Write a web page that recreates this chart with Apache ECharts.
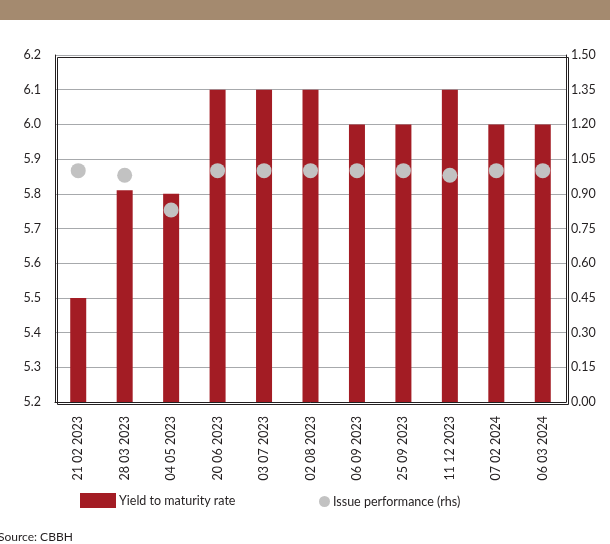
<!DOCTYPE html>
<html>
<head>
<meta charset="utf-8">
<script src="https://cdn.jsdelivr.net/npm/echarts@6/dist/echarts.min.js"></script>
<style>html,body{margin:0;padding:0;background:#fff;}#c{width:610px;height:544px;}</style>
</head>
<body>
<div id="c"></div>
<script>
var categories = ['21 02 2023','28 03 2023','04 05 2023','20 06 2023','03 07 2023','02 08 2023','06 09 2023','25 09 2023','11 12 2023','07 02 2024','06 03 2024'];
var yieldRate = [5.5, 5.81, 5.80, 6.1, 6.1, 6.1, 6.0, 6.0, 6.1, 6.0, 6.0];
var issuePerf = [1.0, 0.98, 0.83, 1.0, 1.0, 1.0, 1.0, 1.0, 0.98, 1.0, 1.0];
var leftTicks = {min: 5.2, max: 6.2, interval: 0.1};
var rightTicks = {min: 0, max: 1.5, interval: 0.15};

var FONT = 'Lato';
var chart = echarts.init(document.getElementById('c'), null, {renderer: 'canvas'});
chart.setOption({
  animation: false,
  textStyle: {fontFamily: FONT},
  graphic: [
    {type: 'rect', left: 0, top: 0, shape: {width: 610, height: 20}, style: {fill: '#a48a6f'}},
    {type: 'rect', left: 55, top: 55, shape: {width: 511, height: 347}, style: {fill: 'none', stroke: '#231f20', lineWidth: 1}, z: 10},
    {type: 'text', left: -2, top: 531, style: {text: 'Source: CBBH', fill: '#231f20', font: '12px ' + FONT}}
  ],
  grid: {left: 55, right: 44, top: 55, bottom: 142, containLabel: false},
  legend: [
    {data: ['Yield to maturity rate'], left: 75, top: 488, itemWidth: 36, itemHeight: 15, itemGap: 4,
     textStyle: {color: '#231f20', fontSize: 12.5, fontFamily: FONT, padding: [0,0,0,-2]}, icon: 'rect'},
    {data: ['Issue performance (rhs)'], left: 314, top: 490, itemWidth: 11, itemHeight: 11,
     textStyle: {color: '#231f20', fontSize: 12.5, fontFamily: FONT, padding: [0,0,0,-2]}, icon: 'circle'}
  ],
  xAxis: {
    type: 'category', data: categories,
    axisLine: {show: true, lineStyle: {color: '#231f20', width: 1}},
    axisTick: {show: false},
    axisLabel: {rotate: 90, color: '#231f20', fontSize: 12.5, fontFamily: FONT, margin: 14, interval: 0}
  },
  yAxis: [
    {type: 'value', min: leftTicks.min, max: leftTicks.max, interval: leftTicks.interval, position: 'left',
     axisLine: {show: true, lineStyle: {color: '#231f20'}}, axisTick: {show: false},
     axisLabel: {color: '#231f20', fontSize: 12.5, fontFamily: FONT, margin: 14, formatter: function(v){return v.toFixed(1);}},
     splitLine: {show: true, lineStyle: {color: '#a7a9ac', width: 1}}},
    {type: 'value', min: rightTicks.min, max: rightTicks.max, interval: rightTicks.interval, position: 'right',
     axisLine: {show: true, lineStyle: {color: '#231f20'}}, axisTick: {show: false},
     axisLabel: {color: '#231f20', fontSize: 12.5, fontFamily: FONT, margin: 5, formatter: function(v){return v.toFixed(2);}},
     splitLine: {show: false}}
  ],
  series: [
    {name: 'Yield to maturity rate', type: 'bar', data: yieldRate, yAxisIndex: 0, barWidth: 16,
     itemStyle: {color: '#a31c24'}},
    {name: 'Issue performance (rhs)', type: 'scatter', data: issuePerf, yAxisIndex: 1, symbol: 'circle', symbolSize: 15,
     itemStyle: {color: '#c2c2c2', opacity: 1}, z: 5}
  ]
});
</script>
</body>
</html>
